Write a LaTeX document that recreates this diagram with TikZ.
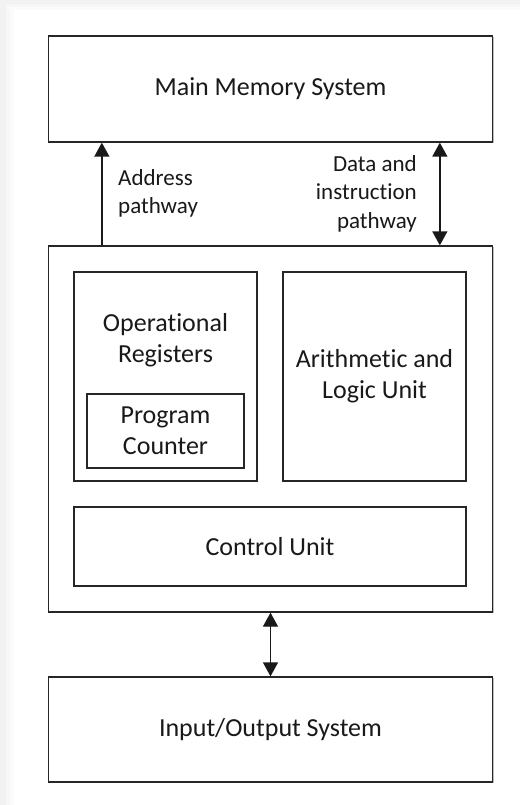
\documentclass[tikz,border=0pt]{standalone}
\usepackage{fontspec}
\setmainfont{Carlito}[Ligatures=NoCommon]
\usetikzlibrary{arrows.meta,shadows}
\begin{document}
\begin{tikzpicture}[x=1pt,y=-1pt,
  box/.style={draw=black!85, line width=1.3pt, fill=white, inner sep=0pt,
    drop shadow={shadow xshift=1.2pt, shadow yshift=-1.2pt, opacity=0.25, fill=black}},
  boxtext/.style={align=center, font=\fontsize{26}{31}\selectfont, inner sep=0pt, text=black!90},
  lbltext/.style={font=\fontsize{23}{28.5}\selectfont, inner sep=0pt, text=black!90},
  tip/.style={},
  arr/.style={line width=1.3pt, draw=black!90, -{Triangle[width=15pt,length=14pt]}},
  dbl/.style={line width=1.3pt, draw=black!90, {Triangle[width=15pt,length=14pt]}-{Triangle[width=15pt,length=14pt]}}]
\useasboundingbox (0,0) rectangle (520,805);
% page background with soft card edge
\fill[black!5] (0,0) rectangle (520,805);
\fill[black!3] (6,4) rectangle (520,805);
\fill[black!1.5] (10,7) rectangle (520,805);
\fill[white] (14,10) rectangle (520,805);
% main boxes
\node[box, minimum width=444pt, minimum height=106pt, boxtext] (mm) at (270.5,89) {Main Memory System};
\node[box, minimum width=444pt, minimum height=366pt] (cpu) at (270.5,429) {};
\node[box, minimum width=444pt, minimum height=105pt, boxtext] (io) at (270.5,729.5) {Input/Output System};
% inner boxes
\node[box, minimum width=183pt, minimum height=209pt] (or) at (165.5,376.5) {};
\node[boxtext] (ortxt) at (165.5,340) {Operational\\Registers};
\node[box, minimum width=157pt, minimum height=74pt, boxtext] (pc) at (165.5,431) {Program\\Counter};
\node[box, minimum width=183pt, minimum height=209pt, boxtext] (alu) at (374.5,376.5) {Arithmetic and\\Logic Unit};
\node[box, minimum width=392pt, minimum height=79pt, boxtext] (cu) at (270,546.5) {Control Unit};
% connectors
\draw[arr] ([xshift=54pt]cpu.north west) -- ([xshift=54pt]mm.south west);
\draw[dbl] ([xshift=392pt]cpu.north west) -- ([xshift=392pt]mm.south west);
\draw[dbl] (cpu.south) -- (io.north);
% labels
\node[lbltext, align=left, anchor=west] (addr) at (118,193.5) {Address\\pathway};
\node[lbltext, align=right, anchor=east] (data) at (417,193.5) {Data and\\instruction\\pathway};
\end{tikzpicture}
\end{document}
